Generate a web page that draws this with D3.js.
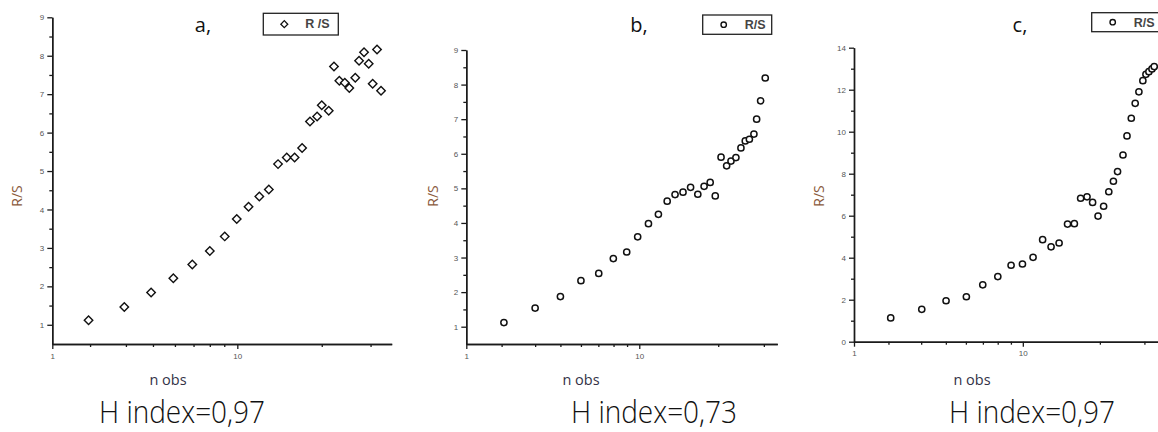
<!DOCTYPE html>
<html>
<head>
<meta charset="utf-8">
<script src="https://cdn.jsdelivr.net/npm/d3@7"></script>
<style>
  html, body { margin: 0; padding: 0; background: #fff; }
  svg { display: block; }
</style>
</head>
<body>
<svg id="chart" width="1158" height="432"></svg>
<script>
// ---------------- DATA ----------------
const panelTitles = ["a,", "b,", "c,"];
const hIndexLabels = ["H index=0,97", "H index=0,73", "H index=0,97"];
const legendLabels = ["R /S", "R/S", "R/S"];
const xAxisTitle = "n obs";
const yAxisTitle = "R/S";

const xMajorTicks = [1, 10];
const xMinorTicks = [1.6, 2.5, 3.5, 4.6, 5.8, 7.1, 8.5, 28.6, 52.5];
const yMajorTicksAB = [1, 2, 3, 4, 5, 6, 7, 8, 9];
const yMinorTicksAB = [1.5, 2.5, 3.5, 4.5, 5.5, 6.5, 7.5, 8.5];
const yMajorTicksC = [0, 2, 4, 6, 8, 10, 12, 14];
const yMinorTicksC = [1, 3, 5, 7, 9, 11, 13];

// panel a
const aN  = [1.57, 2.45, 3.42, 4.51, 5.71, 7.10, 8.55, 9.93, 11.5, 13.15, 14.8, 16.6, 18.5, 20.4, 22.4, 24.7, 27.0, 28.6, 31.2, 33.3, 35.6, 38.1, 40.3, 43.4, 45.5, 48.4, 51.3, 53.9, 56.9, 59.8];
const aRS = [1.12, 1.46, 1.84, 2.21, 2.57, 2.92, 3.30, 3.75, 4.07, 4.34, 4.52, 5.18, 5.35, 5.35, 5.60, 6.29, 6.42, 6.71, 6.57, 7.72, 7.35, 7.30, 7.16, 7.43, 7.87, 8.09, 7.79, 7.27, 8.16, 7.09];
// panel b
const bN  = [1.65, 2.50, 3.50, 4.60, 5.83, 7.08, 8.46, 9.79, 11.3, 12.9, 14.5, 16.1, 17.9, 19.8, 21.8, 23.7, 25.7, 27.5, 29.7, 32.0, 33.9, 36.2, 38.7, 41.0, 43.3, 46.0, 47.7, 50.3, 53.5];
const bRS = [1.12, 1.54, 1.87, 2.33, 2.54, 2.97, 3.16, 3.60, 3.98, 4.25, 4.63, 4.82, 4.89, 5.03, 4.83, 5.06, 5.17, 4.78, 5.90, 5.65, 5.79, 5.89, 6.17, 6.37, 6.42, 6.57, 7.00, 7.53, 8.19];
// panel c
const cN  = [1.65, 2.52, 3.51, 4.63, 5.79, 7.11, 8.52, 9.95, 11.5, 13.1, 14.7, 16.4, 18.4, 20.2, 22.0, 24.0, 25.9, 27.9, 30.1, 32.3, 34.4, 36.4, 39.2, 41.4, 43.9, 46.3, 48.7, 51.4, 53.6, 55.8, 58.2, 60.0];
const cRS = [1.13, 1.54, 1.95, 2.14, 2.71, 3.10, 3.64, 3.70, 4.02, 4.86, 4.52, 4.70, 5.60, 5.62, 6.83, 6.90, 6.63, 5.98, 6.45, 7.14, 7.64, 8.10, 8.89, 9.80, 10.64, 11.35, 11.90, 12.43, 12.73, 12.86, 12.99, 13.10];

// ---------------- LAYOUT ----------------
const svg = d3.select("#chart");
svg.append("rect").attr("width", 1158).attr("height", 432).attr("fill", "#fff");

const panels = [
  { n: aN, rs: aRS, xRange: [52.3, 391.7], xMax: 68.3, yDom: [0.5, 9], yRange: [344, 17.3],
    yMaj: yMajorTicksAB, yMin: yMinorTicksAB, marker: "diamond",
    titleX: 203, yTitleX: 17, xTitleX: 168, hX: 182,
    legend: { x: 263.3, y: 13.3, w: 75, h: 21.7 } },
  { n: bN, rs: bRS, xRange: [466.3, 777.3], xMax: 62.8, yDom: [0.5, 9], yRange: [344, 50],
    yMaj: yMajorTicksAB, yMin: yMinorTicksAB, marker: "circle",
    titleX: 639, yTitleX: 433, xTitleX: 581, hX: 654,
    legend: { x: 702.7, y: 15, w: 69, h: 19.3 } },
  { n: cN, rs: cRS, xRange: [854, 1165.5], xMax: 70, yDom: [0, 14], yRange: [341.7, 47.7],
    yMaj: yMajorTicksC, yMin: yMinorTicksC, marker: "circle",
    titleX: 1020, yTitleX: 819, xTitleX: 972, hX: 1032,
    legend: { x: 1091.7, y: 12.7, w: 80, h: 19 } }
];

const axisColor = "#1a1a1a";
const tickLabelColor = "#555";

panels.forEach((p, i) => {
  const x = d3.scaleLog().domain([1, p.xMax]).range(p.xRange);
  const y = d3.scaleLinear().domain(p.yDom).range(p.yRange);
  const g = svg.append("g");
  const xAxisY = y(p.yDom[0]);
  const yAxisX = x(1);

  g.append("g").attr("transform", `translate(${yAxisX},0)`)
    .call(d3.axisLeft(y).tickValues(p.yMaj).tickSize(5).tickSizeOuter(0).tickPadding(3).tickFormat(d3.format("d")));
  g.append("g").attr("transform", `translate(${yAxisX},0)`)
    .call(d3.axisLeft(y).tickValues(p.yMin).tickSize(3).tickSizeOuter(0).tickFormat(""));
  g.append("g").attr("transform", `translate(0,${xAxisY})`)
    .call(d3.axisBottom(x).tickValues(xMajorTicks).tickSize(5).tickSizeOuter(0).tickPadding(4).tickFormat(d3.format("d")));
  g.append("g").attr("transform", `translate(0,${xAxisY})`)
    .call(d3.axisBottom(x).tickValues(xMinorTicks).tickSize(3).tickSizeOuter(0).tickFormat(""));

  g.selectAll(".domain").attr("stroke", axisColor).attr("stroke-width", 1.4);
  g.selectAll(".tick line").attr("stroke", axisColor).attr("stroke-width", 1.3);
  g.selectAll(".tick text")
    .attr("fill", tickLabelColor)
    .style("font-family", "Arial, 'Liberation Sans', sans-serif")
    .style("font-size", "8px");

  const pts = p.n.map((v, k) => [v, p.rs[k]]);
  if (p.marker === "diamond") {
    g.selectAll("path.pt").data(pts).enter().append("path")
      .attr("class", "pt")
      .attr("d", d3.symbol().type(d3.symbolSquare).size(36))
      .attr("transform", d => `translate(${x(d[0])},${y(d[1])}) rotate(45)`)
      .attr("fill", "#fff").attr("stroke", "#111").attr("stroke-width", 1.4);
  } else {
    g.selectAll("circle.pt").data(pts).enter().append("circle")
      .attr("class", "pt")
      .attr("cx", d => x(d[0])).attr("cy", d => y(d[1]))
      .attr("r", 3.1)
      .attr("fill", "#fff").attr("stroke", "#111").attr("stroke-width", 1.5);
  }

  const L = p.legend;
  g.append("rect").attr("x", L.x).attr("y", L.y).attr("width", L.w).attr("height", L.h)
    .attr("fill", "#fff").attr("stroke", "#222").attr("stroke-width", 1.3);
  const my = L.y + L.h / 2;
  const mx = L.x + 21;
  if (p.marker === "diamond") {
    g.append("path").attr("d", d3.symbol().type(d3.symbolSquare).size(24))
      .attr("transform", `translate(${mx},${my}) rotate(45)`)
      .attr("fill", "#fff").attr("stroke", "#111").attr("stroke-width", 1.3);
  } else {
    g.append("circle").attr("cx", mx).attr("cy", my).attr("r", 2.7)
      .attr("fill", "#fff").attr("stroke", "#111").attr("stroke-width", 1.4);
  }
  g.append("text").attr("x", L.x + 42).attr("y", my + 4.3)
    .attr("fill", "#444")
    .style("font-family", "Arial, 'Liberation Sans', sans-serif")
    .style("font-size", "12.5px").style("font-weight", "bold")
    .text(legendLabels[i]);

  g.append("text").attr("x", p.titleX).attr("y", 32).attr("text-anchor", "middle")
    .attr("fill", "#111")
    .style("font-family", "'Open Sans', sans-serif").style("font-size", "20px")
    .text(panelTitles[i]);

  g.append("text")
    .attr("transform", `translate(${p.yTitleX + 5},196) rotate(-90)`)
    .attr("text-anchor", "middle")
    .attr("fill", "#8a5a3c")
    .style("font-family", "'Open Sans', sans-serif").style("font-size", "14px")
    .text(yAxisTitle);

  g.append("text").attr("x", p.xTitleX).attr("y", 385).attr("text-anchor", "middle")
    .attr("fill", "#333348")
    .style("font-family", "'Open Sans', sans-serif").style("font-size", "14.5px")
    .text(xAxisTitle);

  g.append("text").attr("x", p.hX - 83).attr("y", 423)
    .attr("textLength", 166).attr("lengthAdjust", "spacingAndGlyphs")
    .attr("fill", "#111")
    .style("font-family", "'Open Sans', sans-serif").style("font-size", "31px").style("font-weight", 300)
    .text(hIndexLabels[i]);
});
</script>
</body>
</html>
